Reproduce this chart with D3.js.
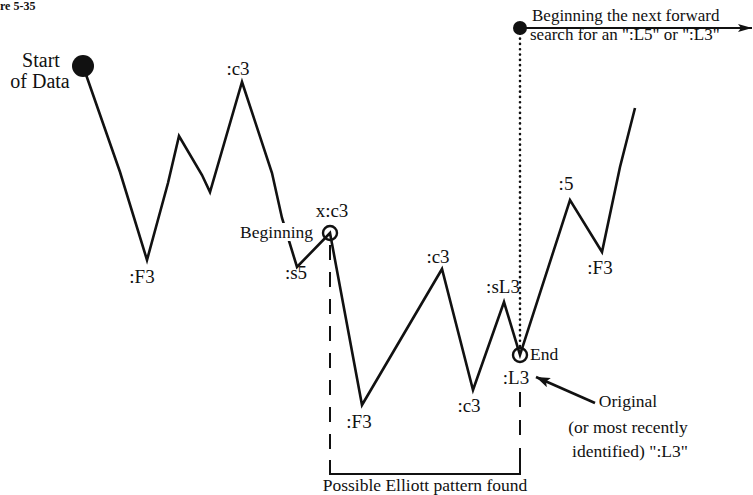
<!DOCTYPE html>
<html><head><meta charset="utf-8">
<script src="https://cdn.jsdelivr.net/npm/d3@7"></script>
<style>
html,body{margin:0;padding:0;background:#fff;}
svg{display:block;}
</style></head>
<body><svg id="c" width="753" height="495"></svg>
<script>
// ---- data ----
const waveTime  = [0, 37, 64, 85, 96, 119, 127, 159, 189, 199, 214, 247, 279, 359, 390, 421, 437, 487, 519, 537, 552];
const wavePrice = [374, 268, 180, 257, 304, 265, 248, 358, 267, 222, 173, 207, 35, 171, 50, 138, 85, 240, 188, 273, 332];
const labelText  = [":F3", ":c3", ":s5", "x:c3", ":F3", ":c3", ":c3", ":sL3", ":L3", ":5", ":F3"];
const labelPoint = [2, 7, 10, 11, 12, 13, 14, 15, 16, 17, 18];
const startIdx = 0, beginIdx = 11, endIdx = 16;
const nextSearchPrice = 412;

const FONT = "'Liberation Serif', 'DejaVu Serif', 'Times New Roman', serif";

// ---- scales ----
const x = d3.scaleLinear().domain([0, 552]).range([83, 635]);
const y = d3.scaleLinear().domain([0, 400]).range([440, 40]);
const svg = d3.select("#c").attr("font-family", FONT);
const pts = waveTime.map((t, i) => [x(t), y(wavePrice[i])]);

function txt(xx, yy, s, size, anchor) {
  return svg.append("text").attr("x", xx).attr("y", yy).attr("font-family", FONT)
    .attr("font-size", size).attr("text-anchor", anchor || "start").attr("fill", "#111").text(s);
}

const defs = svg.append("defs");
defs.append("marker").attr("id","ah").attr("viewBox","0 0 14 8").attr("refX",14).attr("refY",4)
  .attr("markerWidth",14).attr("markerHeight",8).attr("markerUnits","userSpaceOnUse").attr("orient","auto")
  .append("path").attr("d","M0,0 L14,4 L0,8 L3,4 Z").attr("fill","#111");
defs.append("marker").attr("id","ah2").attr("viewBox","0 0 14 10").attr("refX",14).attr("refY",5)
  .attr("markerWidth",14).attr("markerHeight",10).attr("markerUnits","userSpaceOnUse").attr("orient","auto")
  .append("path").attr("d","M0,0 L14,5 L0,10 L3,5 Z").attr("fill","#111");

// title fragment
txt(0, 10, "re 5-35", 12).attr("font-weight", "bold");

// dashed guides & bracket
const bx = x(waveTime[beginIdx]), ex = x(waveTime[endIdx]);
const bracketY = 474;
svg.append("line").attr("x1",bx).attr("x2",bx).attr("y1",y(wavePrice[beginIdx])+12).attr("y2",bracketY)
  .attr("stroke","#111").attr("stroke-width",2).attr("stroke-dasharray","15,12");
svg.append("line").attr("x1",ex).attr("x2",ex).attr("y1",392).attr("y2",bracketY)
  .attr("stroke","#111").attr("stroke-width",2).attr("stroke-dasharray","15,13");
svg.append("path").attr("d",`M${bx},${bracketY-14} V${bracketY} H${ex} V${bracketY-14}`)
  .attr("fill","none").attr("stroke","#111").attr("stroke-width",2);
txt((bx+ex)/2, 491, "Possible Elliott pattern found", 17.5, "middle");

// dotted line to next search point
const topY = y(nextSearchPrice);
svg.append("line").attr("x1",ex).attr("x2",ex).attr("y1",topY).attr("y2",y(wavePrice[endIdx])-7)
  .attr("stroke","#111").attr("stroke-width",2.6).attr("stroke-linecap","round").attr("stroke-dasharray","0.1,5.2");
svg.append("line").attr("x1",ex).attr("x2",752).attr("y1",topY).attr("y2",topY)
  .attr("stroke","#111").attr("stroke-width",2).attr("marker-end","url(#ah)");
svg.append("circle").attr("cx",ex).attr("cy",topY).attr("r",7).attr("fill","#111");
txt(532, 21, "Beginning the next forward", 17);
txt(530, 40, "search for an \":L5\" or \":L3\"", 17);

// wave line
svg.append("path").attr("d", d3.line()(pts)).attr("fill","none").attr("stroke","#111")
  .attr("stroke-width",2.6).attr("stroke-linejoin","miter");

// "Beginning" label with knockout background
const bt = txt(bx-17, pts[beginIdx][1]+5, "Beginning", 17.5, "end");
const bb = bt.node().getBBox();
svg.append("rect").attr("x",bb.x-1).attr("y",bb.y+1).attr("width",bb.width+2).attr("height",bb.height-2).attr("fill","#fff");
bt.raise();

// start dot & markers
svg.append("circle").attr("cx",pts[startIdx][0]).attr("cy",pts[startIdx][1]).attr("r",11).attr("fill","#111");
txt(41, 67, "Start", 20, "middle");
txt(40, 88, "of Data", 20, "middle");
[beginIdx, endIdx].forEach(i => {
  svg.append("circle").attr("cx",pts[i][0]).attr("cy",pts[i][1]).attr("r",7)
    .attr("fill","none").attr("stroke","#111").attr("stroke-width",2.4);
});
txt(pts[endIdx][0]+10, pts[endIdx][1]+5, "End", 17.5);

// wave labels
const offs = [[-5,23],[-4,-7],[-1,12],[2,-16],[-3,23],[-4,-6],[-4,22],[-1,-9],[-4,29],[-4,-10],[-2,22]];
labelText.forEach((s, k) => {
  const p = pts[labelPoint[k]];
  txt(p[0]+offs[k][0], p[1]+offs[k][1], s, 19, "middle");
});

// "Original" annotation
svg.append("line").attr("x1",595).attr("y1",403).attr("x2",536).attr("y2",377)
  .attr("stroke","#111").attr("stroke-width",2.6).attr("marker-end","url(#ah2)");
txt(628, 407, "Original", 17.5, "middle");
txt(628, 433, "(or most recently", 17.5, "middle");
txt(630, 457, "identified) \":L3\"", 17.5, "middle");
</script></body></html>
